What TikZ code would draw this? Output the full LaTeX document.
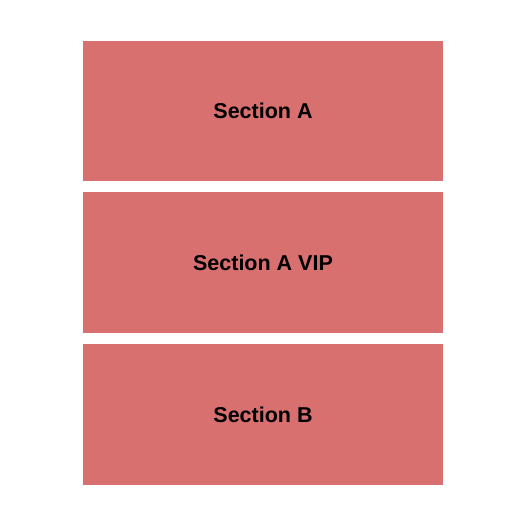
\documentclass[tikz,border=0pt]{standalone}
\usepackage{fontspec}
\setmainfont{Liberation Sans}
\usepackage{tikz}
\usetikzlibrary{positioning}
\definecolor{seatred}{RGB}{215,112,110}
\tikzstyle{section}=[rectangle,fill=seatred,draw=none,inner sep=0mm,minimum width=360pt,font=\fontsize{21.5}{24}\selectfont\bfseries]
\tikzset{every picture/.style={
    x=1pt,y=-1pt
  }
}
\begin{document}
\begin{tikzpicture}
        \useasboundingbox (0,0) rectangle (525,525);
        \node[section,minimum height=140pt] at (263,111) (secA) {Section A};
        \node[section,minimum height=141pt] at (263,262.5) (secAvip) {Section A VIP};
        \node[section,minimum height=141pt] at (263,414.5) (secB) {Section B};
      \end{tikzpicture}
\end{document}
